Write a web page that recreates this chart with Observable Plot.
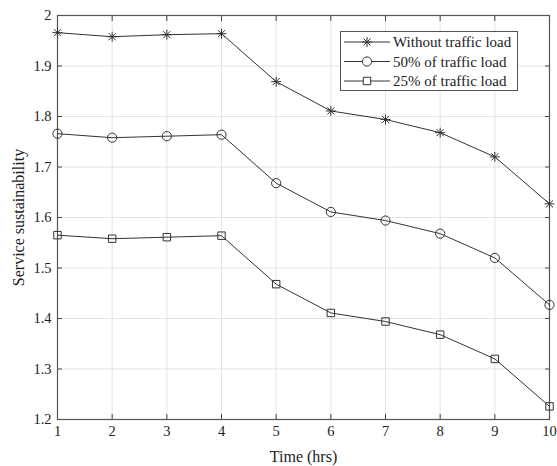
<!DOCTYPE html>
<html>
<head>
<meta charset="utf-8">
<script src="https://cdn.jsdelivr.net/npm/d3@7"></script>
<script src="https://cdn.jsdelivr.net/npm/@observablehq/plot@0.6"></script>
<style>
  html, body { margin: 0; padding: 0; background: #fff; }
  #wrap { position: relative; width: 557px; height: 466px; font-family: "Liberation Serif", "DejaVu Serif", serif; }
  #legend { position: absolute; left: 340px; top: 31px; }
</style>
</head>
<body>
<div id="wrap"></div>
<script>
const hours = [1, 2, 3, 4, 5, 6, 7, 8, 9, 10];
const withoutLoad = [1.966, 1.958, 1.962, 1.964, 1.869, 1.811, 1.794, 1.768, 1.720, 1.627];
const load50 = [1.766, 1.758, 1.761, 1.764, 1.668, 1.611, 1.594, 1.568, 1.520, 1.427];
const load25 = [1.565, 1.558, 1.561, 1.564, 1.468, 1.411, 1.394, 1.368, 1.320, 1.226];
const seriesNames = ["Without traffic load", "50% of traffic load", "25% of traffic load"];
const xTicks = [1, 2, 3, 4, 5, 6, 7, 8, 9, 10];
const yTicks = [1.2, 1.3, 1.4, 1.5, 1.6, 1.7, 1.8, 1.9, 2];
const xTickLabels = ["1", "2", "3", "4", "5", "6", "7", "8", "9", "10"];
const yTickLabels = ["1.2", "1.3", "1.4", "1.5", "1.6", "1.7", "1.8", "1.9", "2"];
const xTitle = "Time (hrs)";
const yTitle = "Service sustainability";

const ink = "#333";
const font = "'Liberation Serif', 'DejaVu Serif', serif";

// 8-arm asterisk like MATLAB's '*'
const star8 = {
  draw(context, size) {
    const r = Math.sqrt(size / Math.PI);
    const d = r * Math.SQRT1_2;
    context.moveTo(-r, 0); context.lineTo(r, 0);
    context.moveTo(0, -r); context.lineTo(0, r);
    context.moveTo(-d, -d); context.lineTo(d, d);
    context.moveTo(-d, d); context.lineTo(d, -d);
  }
};

const series = [
  {name: seriesNames[0], values: withoutLoad, symbol: star8, r: 5},
  {name: seriesNames[1], values: load50, symbol: "circle", r: 4.6},
  {name: seriesNames[2], values: load25, symbol: "square", r: 4.2}
];
const rows = series.flatMap(s => hours.map((h, i) => ({name: s.name, x: h, y: s.values[i]})));

const xFmt = d => xTickLabels[xTicks.indexOf(d)];
const yFmt = d => yTickLabels[yTicks.indexOf(d)];

const marks = [
  Plot.gridX(xTicks, {stroke: "#e3e3e3", strokeOpacity: 1}),
  Plot.gridY(yTicks, {stroke: "#e3e3e3", strokeOpacity: 1}),
  Plot.axisX(xTicks, {anchor: "bottom", tickSize: 0, tickPadding: 6, tickFormat: xFmt, fontSize: 14.5, fill: "#222", label: null}),
  Plot.axisY(yTicks, {anchor: "left", tickSize: 0, tickPadding: 6, tickFormat: yFmt, fontSize: 14.5, fill: "#222", label: null}),
  Plot.axisX(xTicks, {anchor: "bottom", tickSize: -5, fill: "none", label: null, stroke: "#444"}),
  Plot.axisY(yTicks, {anchor: "left", tickSize: -5, fill: "none", label: null, stroke: "#444"}),
  Plot.axisX(xTicks, {anchor: "top", tickSize: -5, fill: "none", label: null, stroke: "#444"}),
  Plot.axisY(yTicks, {anchor: "right", tickSize: -5, fill: "none", label: null, stroke: "#444"}),
  Plot.text([xTitle], {frameAnchor: "bottom", lineAnchor: "middle", textAnchor: "middle", dy: 37, fontSize: 16, fill: "#222", text: d => d}),
  Plot.text([yTitle], {frameAnchor: "left", rotate: -90, textAnchor: "middle", lineAnchor: "middle", dx: -39, fontSize: 16, fill: "#222", text: d => d}),
  Plot.frame({stroke: "#555", strokeWidth: 1.2})
];
for (const s of series) {
  const data = rows.filter(d => d.name === s.name);
  marks.push(Plot.line(data, {x: "x", y: "y", stroke: ink, strokeWidth: 1}));
  marks.push(Plot.dot(data, {x: "x", y: "y", symbol: () => s.symbol, r: s.r, stroke: ink, fill: "none", strokeWidth: 1}));
}

const chart = Plot.plot({
  width: 557,
  height: 466,
  marginLeft: 57,
  marginRight: 8,
  marginTop: 15,
  marginBottom: 47,
  style: {fontFamily: font, fontSize: "14px", background: "#fff", color: "#222", overflow: "visible"},
  x: {domain: [1, 10]},
  y: {domain: [1.2, 2]},
  symbol: {type: "identity"},
  marks
});
document.getElementById("wrap").appendChild(chart);

// Legend (box overlay)
const lw = 178, lh = 60;
const legend = d3.create("svg")
  .attr("id", "legend")
  .attr("width", lw).attr("height", lh)
  .style("font-family", font)
  .style("font-size", "15px");
legend.append("rect").attr("x", 0.5).attr("y", 0.5).attr("width", lw - 1).attr("height", lh - 1)
  .attr("fill", "#fff").attr("stroke", "#555").attr("stroke-width", 1);
const symGen = {circle: d3.symbolCircle, square: d3.symbolSquare};
series.forEach((s, i) => {
  const cy = 11 + i * 19.5;
  const g = legend.append("g");
  g.append("line").attr("x1", 4).attr("x2", 50).attr("y1", cy).attr("y2", cy).attr("stroke", ink);
  const type = typeof s.symbol === "string" ? symGen[s.symbol] : s.symbol;
  g.append("path").attr("transform", `translate(27,${cy})`)
    .attr("d", d3.symbol(type, Math.PI * s.r * s.r)())
    .attr("fill", typeof s.symbol === "string" ? "#fff" : "none")
    .attr("stroke", ink);
  g.append("text").attr("x", 53).attr("y", cy).attr("dy", "0.35em").attr("fill", "#222").text(s.name);
});
document.getElementById("wrap").appendChild(legend.node());
</script>
</body>
</html>
